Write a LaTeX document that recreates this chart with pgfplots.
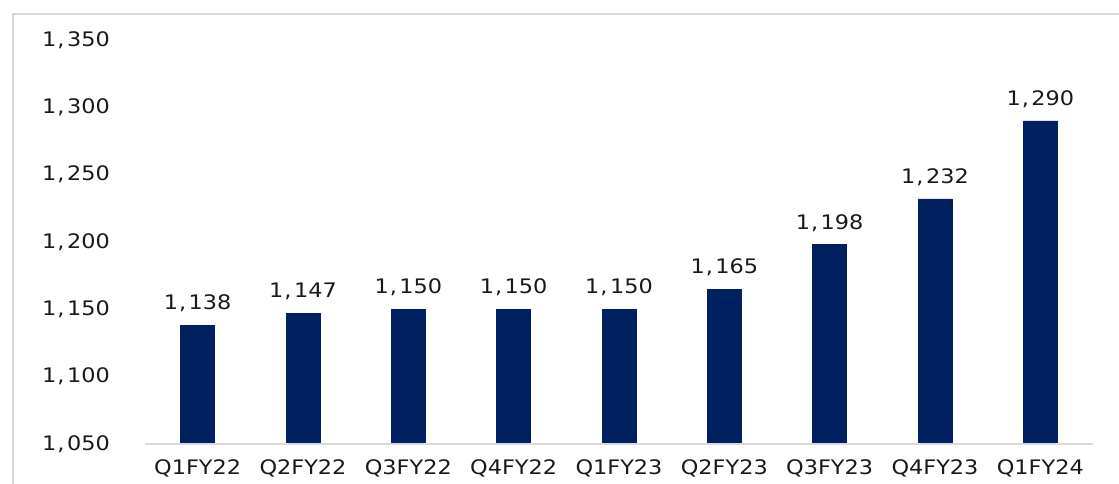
\documentclass[border=0pt]{standalone}
\usepackage{pgfplots}
\pgfplotsset{compat=1.18}
\usepackage{fontspec}
\setmainfont{DejaVu Sans}[FakeStretch=1.12]
\definecolor{barblue}{HTML}{002060}
\definecolor{framegray}{HTML}{D9D9D9}
\begin{document}
\begin{tikzpicture}[x=1pt,y=1pt]
\useasboundingbox (0,0) rectangle (1119,484);
\draw[framegray, line width=2pt] (13,0) -- (13,470) -- (1119,470);
\begin{axis}[
  at={(145pt,40pt)}, anchor=south west,
  scale only axis, width=948pt, height=404pt,
  xmin=-0.5, xmax=8.5, ymin=1050, ymax=1350,
  ytick={1050,1100,...,1350},
  xtick={0,...,8},
  xticklabels={Q1FY22,Q2FY22,Q3FY22,Q4FY22,Q1FY23,Q2FY23,Q3FY23,Q4FY23,Q1FY24},
  major tick length=0pt,
  axis line style={draw=none},
  /pgf/number format/.cd, 1000 sep={\kern1pt,\kern2.5pt}, assume math mode=true,
  /pgfplots/.cd,
  tick label style={font=\fontsize{20}{22}\selectfont, text=black!90, inner sep=0pt},
  yticklabel style={anchor=east, xshift=-35pt},
  xticklabel style={anchor=north, yshift=-15pt},
  ybar, bar width=34pt,
  nodes near coords,
  nodes near coords style={font=\fontsize{20}{22}\selectfont, text=black!90, anchor=south, inner sep=0pt, yshift=13pt},
  clip=false,
]
\addplot[fill=barblue, draw=barblue] coordinates {
(0,1138) (1,1147) (2,1150) (3,1150) (4,1150) (5,1165) (6,1198) (7,1232) (8,1290)};
\draw[framegray, line width=1.5pt] (axis cs:-0.5,1050) -- (axis cs:8.5,1050);
\end{axis}
\end{tikzpicture}
\end{document}
